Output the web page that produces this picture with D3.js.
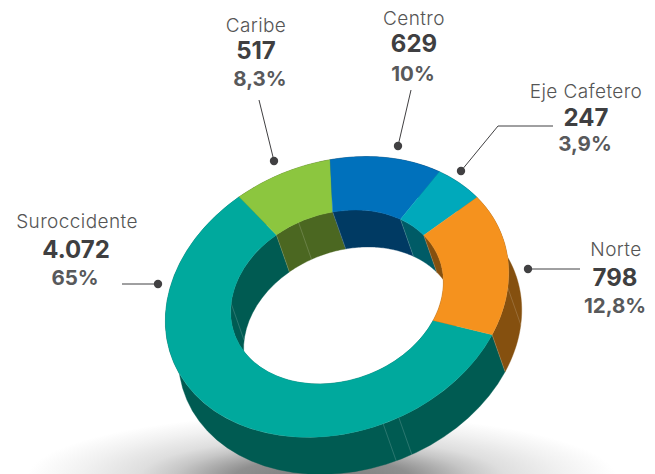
<!DOCTYPE html>
<html>
<head>
<meta charset="utf-8">
<script src="https://cdn.jsdelivr.net/npm/d3@7"></script>
<style>
  html, body { margin: 0; padding: 0; background: #fff; }
  svg { display: block; }
  text { font-family: Inter, "Open Sans", sans-serif; text-anchor: middle; }
  .name { font-size: 19px; font-weight: 300; fill: #555; letter-spacing: 0.4px; }
  .count { font-size: 24px; font-weight: 700; fill: #3f3f41; }
  .share { font-size: 20.5px; font-weight: 700; fill: #58595b; }
</style>
</head>
<body>
<div id="chart"></div>
<script>
//chart data
var regions = ['Suroccidente', 'Caribe', 'Centro', 'Eje Cafetero', 'Norte'];
var countLabels = ['4.072', '517', '629', '247', '798'];
var shareLabels = ['65%', '8,3%', '10%', '3,9%', '12,8%'];

//sweep of each slice as the picture draws it, in % of the ring (not quite the printed shares)
var drawnSweep = [58.3, 9.0, 10.8, 5.0, 16.9];

//where the extra thin seams sit on the walls, degrees clockwise from the top of the ring
var outerSeams = [111.6, 174.5, 180];
var innerSeams = [-68.7, -5.6];

var topColors = ['#00a99d', '#8cc63f', '#0071bc', '#00a9bb', '#f5921e'];
var wallColors = ['#005b52', '#4b6721', '#003a63', '#005b66', '#85500f'];

//setup
var width = 655;
var height = 474;
var center = [337, 297];
var tilt = -20 * Math.PI / 180;
var outerRx = 176, outerRy = 135;
var innerRatio = 0.62;
var depth = [13, 37];
var firstAngle = 131;

var svg = d3.select('#chart')
  .append('svg')
  .attr('width', width)
  .attr('height', height);

//ground shadow
var glow = svg.append('defs')
  .append('radialGradient')
  .attr('id', 'ground');
[[0, '#7a7a7a'], [0.3, '#8f8f8f'], [0.5, '#c6c6c6'], [0.62, '#dedede'], [0.82, '#f1f1f1'], [1, '#ffffff']]
  .forEach(function(s) {
    glow.append('stop').attr('offset', s[0]).attr('stop-color', s[1]);
  });

svg.append('ellipse')
  .attr('cx', 322)
  .attr('cy', 478)
  .attr('rx', 295)
  .attr('ry', 64)
  .attr('fill', 'url(#ground)');

//ring position on the page from the angle in the flat circle
function project(angle, radius, sunk) {
  var u = Math.sin(angle) * radius * outerRx;
  var v = -Math.cos(angle) * radius * outerRy;
  var x = center[0] + u * Math.cos(tilt) - v * Math.sin(tilt);
  var y = center[1] + u * Math.sin(tilt) + v * Math.cos(tilt);
  return sunk ? [x + depth[0], y + depth[1]] : [x, y];
}

var pie = d3.pie()
  .sort(null)
  .startAngle(firstAngle * Math.PI / 180)
  .endAngle((firstAngle + 360) * Math.PI / 180);

var slices = pie(drawnSweep);
var line = d3.line();

function wall(d, radius) {
  var steps = d3.range(0, 41).map(function(i) {
    return d.startAngle + (d.endAngle - d.startAngle) * i / 40;
  });
  var rim = steps.map(function(a) { return project(a, radius, false); });
  var low = steps.map(function(a) { return project(a, radius, true); }).reverse();
  return line(rim.concat(low)) + 'Z';
}

//outer then inner walls, the top face covers whatever is hidden
[1, innerRatio].forEach(function(radius) {
  svg.append('g')
    .selectAll('path')
    .data(slices)
    .enter()
    .append('path')
    .attr('d', function(d) { return wall(d, radius); })
    .attr('fill', function(d, i) { return wallColors[i]; })
    .attr('stroke', function(d, i) { return wallColors[i]; })
    .attr('stroke-width', 0.4);
});

//thin seams on the walls
function seam(angle, radius) {
  return line([project(angle, radius, false), project(angle, radius, true)]);
}

var boundaries = slices.map(function(d) { return d.startAngle; });
var seamData = boundaries
  .map(function(a) { return {a: a, r: 1}; })
  .concat(boundaries.map(function(a) { return {a: a, r: innerRatio}; }))
  .concat(outerSeams.map(function(a) { return {a: a * Math.PI / 180, r: 1}; }))
  .concat(innerSeams.map(function(a) { return {a: a * Math.PI / 180, r: innerRatio}; }));

svg.append('g')
  .selectAll('path')
  .data(seamData)
  .enter()
  .append('path')
  .attr('d', function(d) { return seam(d.a, d.r); })
  .attr('fill', 'none')
  .attr('stroke', '#ffffff')
  .attr('stroke-opacity', 0.28)
  .attr('stroke-width', 0.6);

//top face
var arc = d3.arc()
  .innerRadius(innerRatio)
  .outerRadius(1);

svg.append('g')
  .attr('transform', 'translate(' + center + ') rotate(' + (tilt * 180 / Math.PI) + ') scale(' + outerRx + ',' + outerRy + ')')
  .selectAll('path')
  .data(slices)
  .enter()
  .append('path')
  .attr('d', arc)
  .attr('fill', function(d, i) { return topColors[i]; })
  .attr('stroke', function(d, i) { return topColors[i]; })
  .attr('stroke-width', 0.3)
  .attr('vector-effect', 'non-scaling-stroke');

//leader lines and dots, same order as regions
var leaders = [
  [[158, 284], [122, 284]],
  [[274, 161], [259, 100]],
  [[398, 146], [411, 90]],
  [[461, 171], [498, 126], [553, 126]],
  [[528, 269], [580, 269]]
];

svg.append('g')
  .selectAll('path')
  .data(leaders)
  .enter()
  .append('path')
  .attr('d', function(d) { return line(d); })
  .attr('fill', 'none')
  .attr('stroke', '#414042')
  .attr('stroke-width', 1);

svg.append('g')
  .selectAll('circle')
  .data(leaders)
  .enter()
  .append('circle')
  .attr('cx', function(d) { return d[0][0]; })
  .attr('cy', function(d) { return d[0][1]; })
  .attr('r', 4.2)
  .attr('fill', '#414042');

//labels, same order as regions: x of the name, count and share rows, then their baselines
var labelSpots = [
  [77, 76, 75, 228, 258, 285],
  [256, 256, 260, 32, 59, 86],
  [414, 414, 413, 25, 52, 81],
  [586, 586, 585, 98, 126, 151],
  [616, 615, 615, 256, 286, 313]
];

regions.forEach(function(name, i) {
  var spot = labelSpots[i];
  var g = svg.append('g');
  g.append('text').attr('class', 'name').attr('x', spot[0]).attr('y', spot[3]).text(name);
  g.append('text').attr('class', 'count').attr('x', spot[1]).attr('y', spot[4]).text(countLabels[i]);
  g.append('text').attr('class', 'share').attr('x', spot[2]).attr('y', spot[5]).text(shareLabels[i]);
});
</script>
</body>
</html>
